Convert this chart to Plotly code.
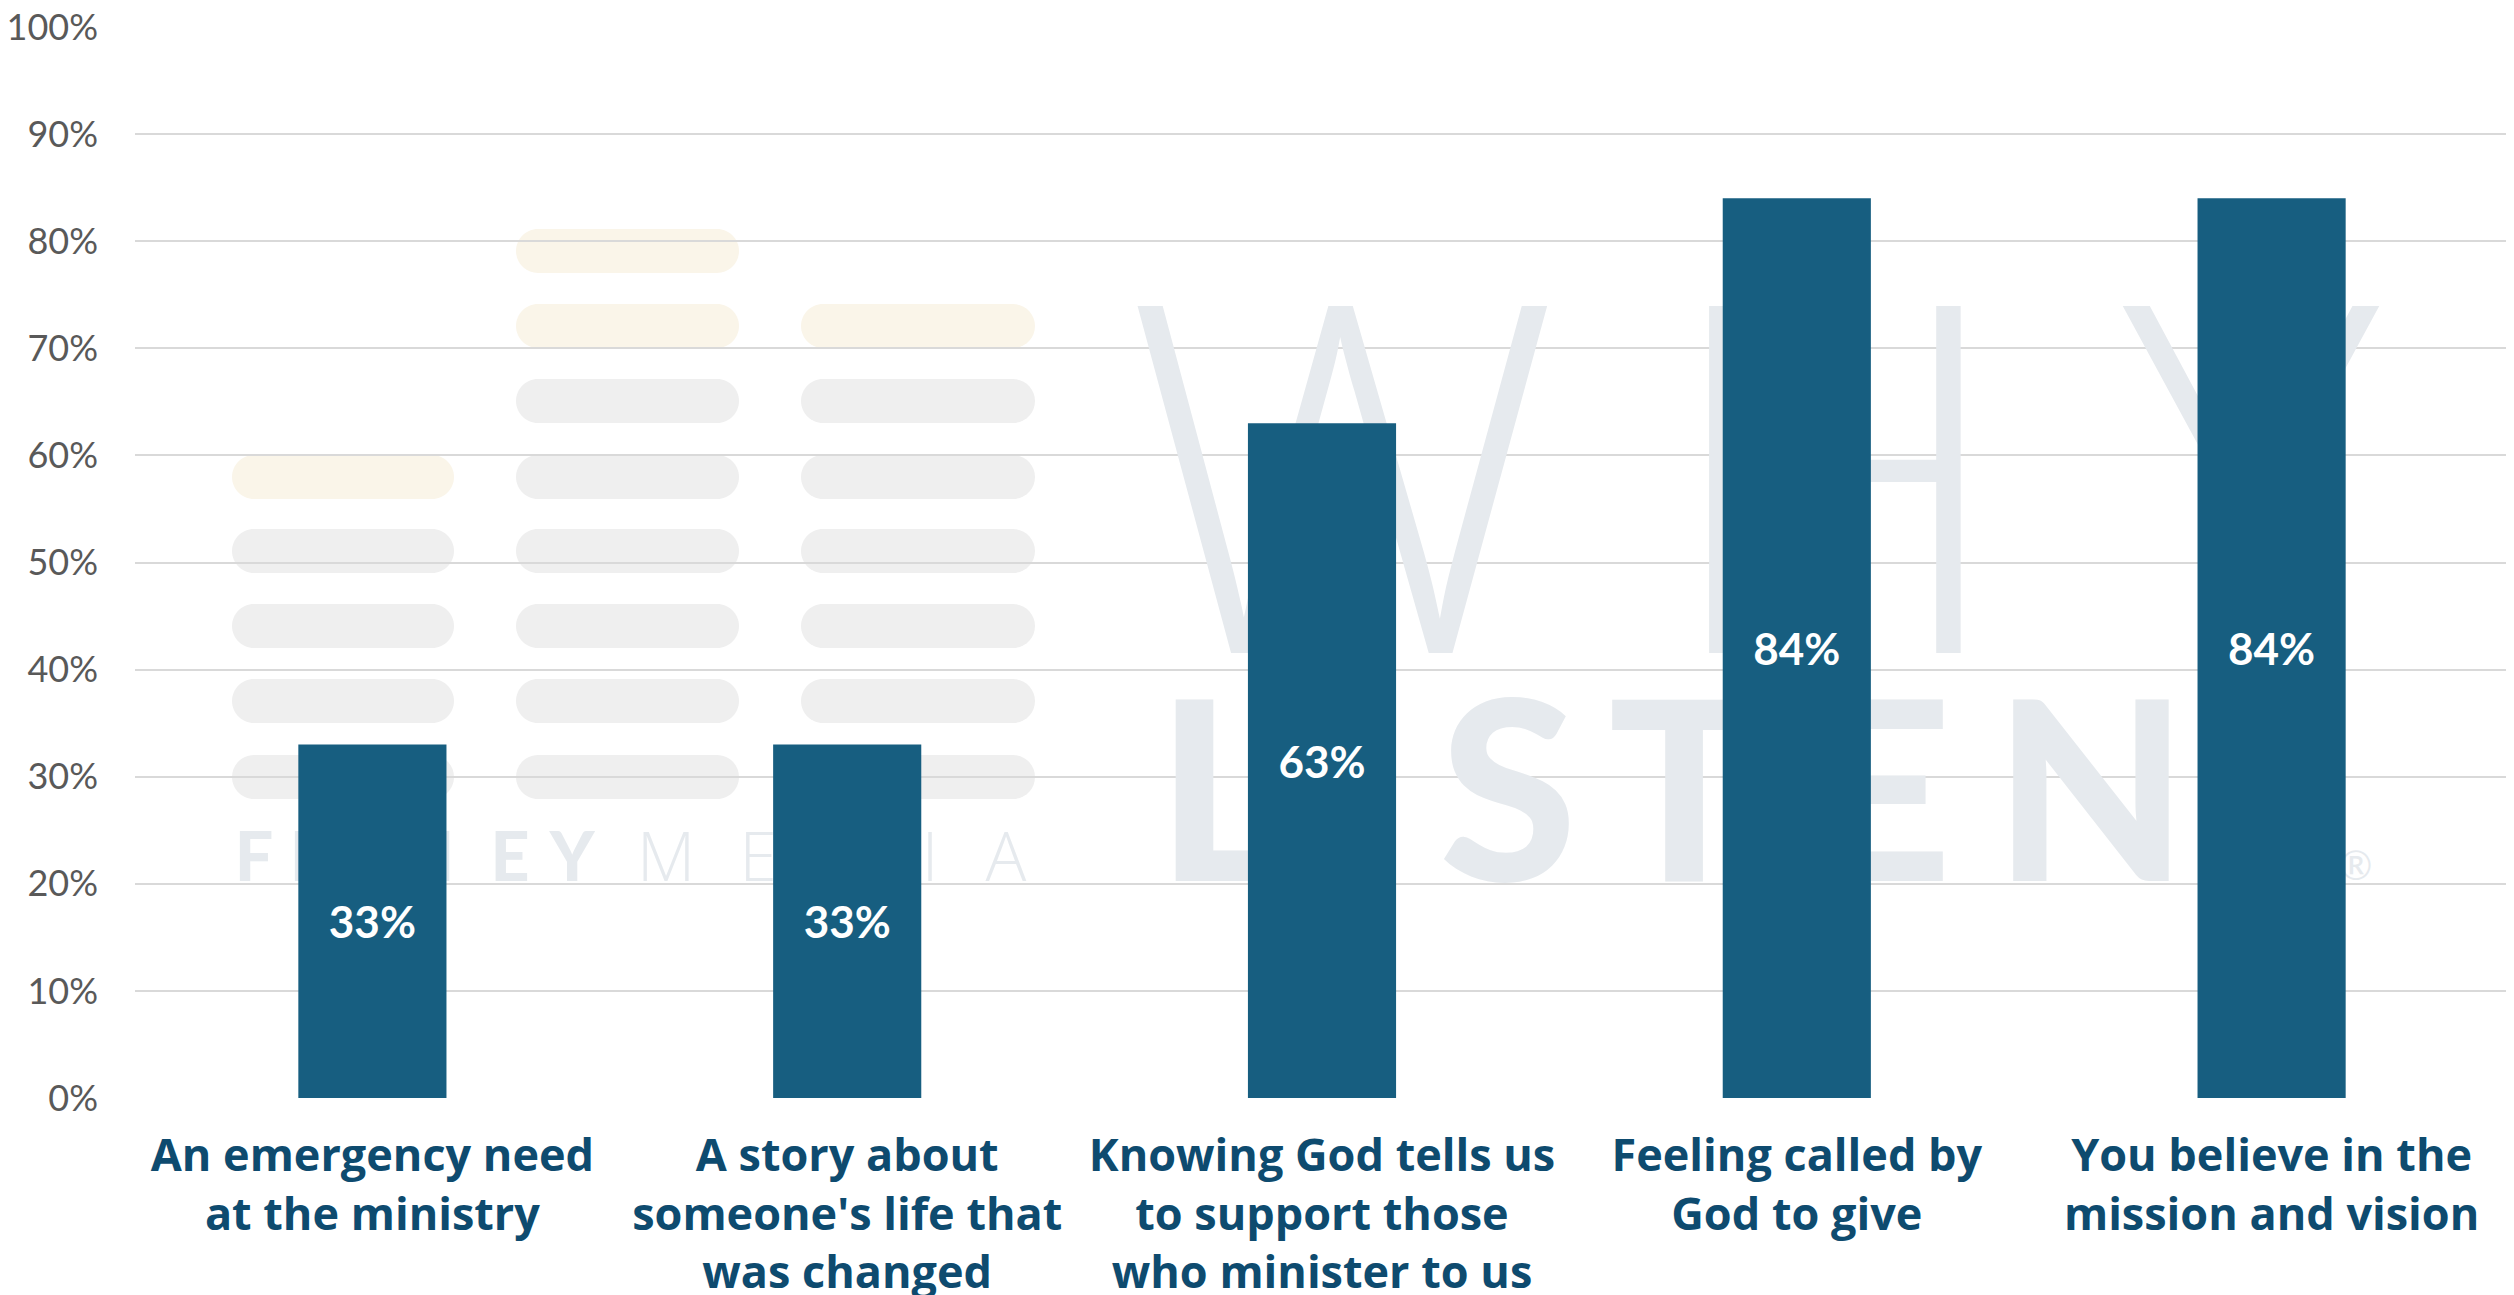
import plotly.graph_objects as go

# ---- chart data ----
categories = [
    "An emergency need<br>at the ministry",
    "A story about<br>someone's life that<br>was changed",
    "Knowing God tells us<br>to support those<br>who minister to us",
    "Feeling called by<br>God to give",
    "You believe in the<br>mission and vision",
]
values = [0.33, 0.33, 0.63, 0.84, 0.84]
y_ticks = [i / 10 for i in range(11)]
y_tick_labels = [f"{i * 10}%" for i in range(11)]

# ---- faint background logo (decoration, pixel coords of the plot area) ----
wm_color = "#E6EAEE"
pill_gray = "#EFEFEF"
pill_beige = "#FAF5E9"
pill_cols = [(232, 454), (516, 739), (801, 1035)]
pill_rows = {
    0: [(477, pill_beige), (551, pill_gray), (626, pill_gray), (701, pill_gray), (777, pill_gray)],
    1: [(251, pill_beige), (326, pill_beige), (401, pill_gray), (477, pill_gray),
        (551, pill_gray), (626, pill_gray), (701, pill_gray), (777, pill_gray)],
    2: [(326, pill_beige), (401, pill_gray), (477, pill_gray), (551, pill_gray),
        (626, pill_gray), (701, pill_gray), (777, pill_gray)],
}
pill_h = 44

thin_family = "'Open Sans', Roboto, sans-serif"
heavy_family = "Lato, Roboto, sans-serif"
wm_letters = [
    # text, x, y (visual centre), size, weight, family
    ("W", 1342, 478, 486, 350, thin_family), ("H", 1835, 478, 486, 350, thin_family),
    ("Y", 2251, 478, 486, 350, thin_family),
    ("L", 1222, 791, 250, 900, heavy_family), ("I", 1322, 791, 250, 900, heavy_family),
    ("S", 1508, 791, 250, 900, heavy_family), ("T", 1684, 791, 250, 900, heavy_family),
    ("E", 1880, 791, 250, 900, heavy_family), ("N", 2091, 791, 250, 900, heavy_family),
    ("®", 2356, 866, 40, 400, heavy_family),
    ("F", 254, 857, 68, 900, heavy_family), ("I", 300, 857, 68, 900, heavy_family),
    ("N", 353, 857, 68, 900, heavy_family), ("N", 428, 857, 68, 900, heavy_family),
    ("E", 510, 857, 68, 900, heavy_family), ("Y", 572, 857, 68, 900, heavy_family),
    ("M", 666, 857, 68, 300, thin_family), ("E", 758, 857, 68, 300, thin_family),
    ("D", 850, 857, 68, 300, thin_family), ("I", 930, 857, 68, 300, thin_family),
    ("A", 1006, 857, 68, 300, thin_family),
]

bar_color = "#175E80"
label_color = "#0E4B6F"
tick_color = "#595959"
grid_color = "#D9D9D9"
font_family = "Lato, 'Open Sans', sans-serif"
label_family = "'Open Sans', Lato, sans-serif"


def pill_path(x0, x1, yc, h):
    r = h / 2
    k = 0.5523 * r
    y0, y1 = yc - r, yc + r
    return (
        f"M {x0 + r},{y0} L {x1 - r},{y0} "
        f"C {x1 - r + k},{y0} {x1},{yc - k} {x1},{yc} "
        f"C {x1},{yc + k} {x1 - r + k},{y1} {x1 - r},{y1} "
        f"L {x0 + r},{y1} "
        f"C {x0 + r - k},{y1} {x0},{yc + k} {x0},{yc} "
        f"C {x0},{yc - k} {x0 + r - k},{y0} {x0 + r},{y0} Z"
    )


fig = go.Figure()

# watermark letters on the base axes (drawn beneath the bar subplot)
for ch, x, y, size, weight, fam in wm_letters:
    fig.add_trace(go.Scatter(
        x=[x], y=[y + 0.11 * size], mode="text", text=[ch],
        textposition="middle center",
        textfont=dict(family=fam, size=size, color=wm_color, weight=weight),
        hoverinfo="skip", showlegend=False, xaxis="x", yaxis="y", cliponaxis=False,
    ))

# bars on the overlaying axes
fig.add_trace(go.Bar(
    x=categories, y=values,
    marker=dict(color=bar_color, line=dict(width=0)),
    texttemplate="%{y:.0%}", textposition="inside", insidetextanchor="middle",
    textangle=0, constraintext="none",
    textfont=dict(family=font_family, size=44, color="white", weight="bold"),
    xaxis="x2", yaxis="y2", showlegend=False, hoverinfo="skip",
))

shapes = []
for ci, rows in pill_rows.items():
    x0, x1 = pill_cols[ci]
    for yc, col in rows:
        shapes.append(dict(
            type="path", path=pill_path(x0, x1, yc, pill_h), xref="x", yref="y",
            fillcolor=col, line=dict(width=0), layer="below",
        ))

fig.update_layout(
    width=2514, height=1295,
    margin=dict(l=127, r=13, t=19, b=205, autoexpand=False),
    paper_bgcolor="white", plot_bgcolor="white",
    bargap=0.688,
    shapes=shapes,
    xaxis=dict(domain=[0, 1], range=[135, 2509], visible=False, fixedrange=True,
               automargin=False),
    yaxis=dict(domain=[0, 1], range=[1098, 27], visible=False, fixedrange=True,
               automargin=False),
    xaxis2=dict(
        overlaying="x", anchor="y2", type="category", automargin=False,
        showgrid=False, showline=False, zeroline=False, ticks="",
        tickfont=dict(family=label_family, size=45, color=label_color, weight="bold"),
        ticklabelstandoff=27, ticklabeloverflow="allow",
    ),
    yaxis2=dict(
        overlaying="y", anchor="x2", range=[0, 1], automargin=False,
        tickvals=y_ticks, ticktext=y_tick_labels,
        showgrid=True, gridcolor=grid_color, gridwidth=2,
        zeroline=False, showline=False, ticks="",
        tickfont=dict(family=font_family, size=36, color=tick_color),
        ticklabelstandoff=36, ticklabeloverflow="allow",
    ),
)

fig.write_html("out.html")
